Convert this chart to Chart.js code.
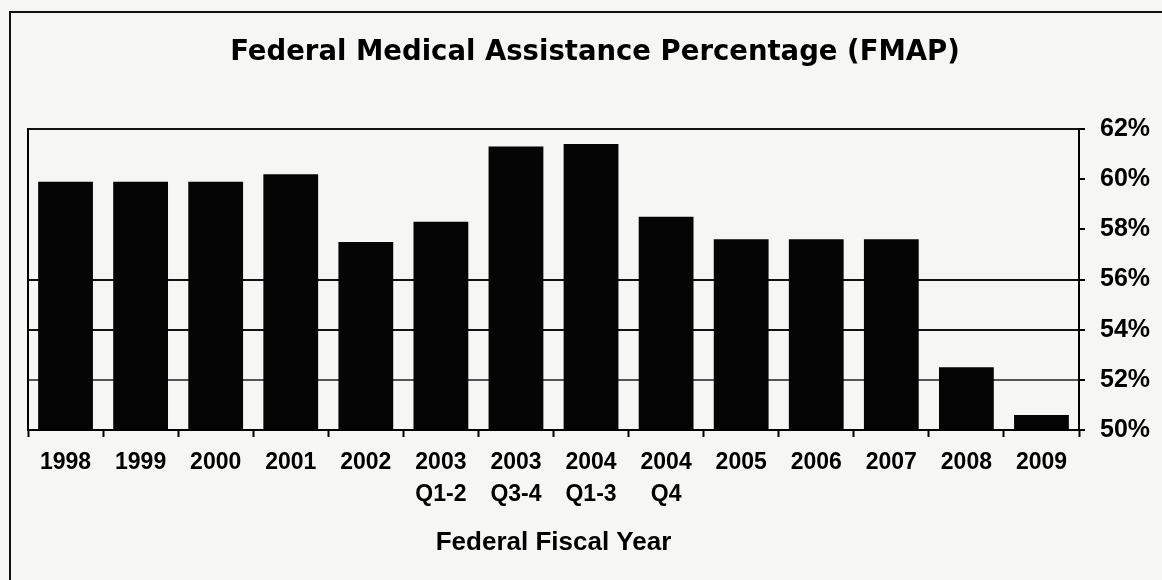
<!DOCTYPE html>
<html>
<head>
<meta charset="utf-8">
<title>FMAP</title>
<script src="https://cdn.jsdelivr.net/npm/chart.js@4.4.1/dist/chart.umd.min.js"></script>
<style>
    html, body { margin: 0; padding: 0; background: #f6f6f5; overflow: hidden; }
    #wrap { position: relative; width: 1162px; height: 580px; }
    /* outer frame of the scanned figure, only left + top edges show */
    #frame {
        position: absolute; left: 9px; top: 11px; width: 1200px; height: 620px;
        border-left: 2px solid #111; border-top: 2px solid #111;
    }
    #fmapChart { position: absolute; left: 0; top: 0; }
</style>
</head>
<body>
<div id="wrap">
    <div id="frame"></div>
    <canvas id="fmapChart" width="1162" height="580"></canvas>
</div>
<script>
// federal fiscal years (line 1 + line 2 of each label)
var years = ['1998', '1999', '2000', '2001', '2002', '2003', '2003', '2004', '2004', '2005', '2006', '2007', '2008', '2009'];
var quarters = ['', '', '', '', '', 'Q1-2', 'Q3-4', 'Q1-3', 'Q4', '', '', '', '', ''];

// FMAP in percent
var fmap = [59.9, 59.9, 59.9, 60.2, 57.5, 58.3, 61.3, 61.4, 58.5, 57.6, 57.6, 57.6, 52.5, 50.6];

// y axis ticks
var yMin = 50;
var yMax = 62;
var yStep = 2;

var labels = years.map(function (y, i) {
    return quarters[i] ? [y, quarters[i]] : y;
});

var ctx = document.getElementById('fmapChart').getContext('2d');

new Chart(ctx, {
    type: 'bar',
    data: {
        labels: labels,
        datasets: [{
            label: 'FMAP',
            data: fmap,
            backgroundColor: '#050505',
            borderWidth: 0,
            barPercentage: 0.73,
            categoryPercentage: 1,
            yAxisID: 'y'
        }]
    },
    options: {
        responsive: false,
        animation: false,
        layout: {
            padding: { left: 28, right: 0, top: 0, bottom: 0 }
        },
        plugins: {
            legend: { display: false },
            tooltip: { enabled: false },
            title: {
                display: true,
                text: 'Federal Medical Assistance Percentage (FMAP)',
                color: '#000',
                font: { family: 'DejaVu Sans', weight: 'bold', size: 27.5 },
                padding: { top: 36.5, bottom: 59.5 }
            }
        },
        scales: {
            x: {
                position: 'bottom',
                afterFit: function (scale) { scale.height = 150; },
                grid: {
                    drawOnChartArea: false,
                    drawTicks: true,
                    tickLength: 7,
                    tickColor: '#000',
                    tickWidth: 2
                },
                border: { display: true, color: '#000', width: 2 },
                ticks: {
                    color: '#000',
                    padding: 10,
                    maxRotation: 0,
                    autoSkip: false,
                    font: { family: 'Liberation Sans', weight: 'bold', size: 23, lineHeight: '32px' }
                },
                title: {
                    display: true,
                    text: 'Federal Fiscal Year',
                    color: '#000',
                    font: { family: 'Liberation Sans', weight: 'bold', size: 26 },
                    padding: { top: 0, bottom: 22 }
                }
            },
            y: {
                position: 'right',
                min: yMin,
                max: yMax,
                afterFit: function (scale) { scale.width = 83; },
                grid: {
                    color: function (c) {
                        var v = c.tick ? c.tick.value : null;
                        if (v === 54 || v === 56 || v === 62) return '#111';
                        if (v === 52) return '#555';
                        return 'rgba(0,0,0,0)';
                    },
                    lineWidth: 2,
                    tickColor: '#000',
                    tickLength: 6,
                    tickWidth: 2
                },
                border: { display: true, color: '#000', width: 2 },
                ticks: {
                    stepSize: yStep,
                    padding: 15,
                    color: '#000',
                    font: { family: 'Liberation Sans', weight: 'bold', size: 25 },
                    callback: function (v) { return v + '%'; }
                }
            },
            yLeft: {
                position: 'left',
                min: yMin,
                max: yMax,
                afterFit: function (scale) { scale.width = 0; },
                grid: { drawOnChartArea: false, drawTicks: false },
                border: { display: true, color: '#000', width: 2 },
                ticks: { display: false }
            }
        }
    }
});
</script>
</body>
</html>
